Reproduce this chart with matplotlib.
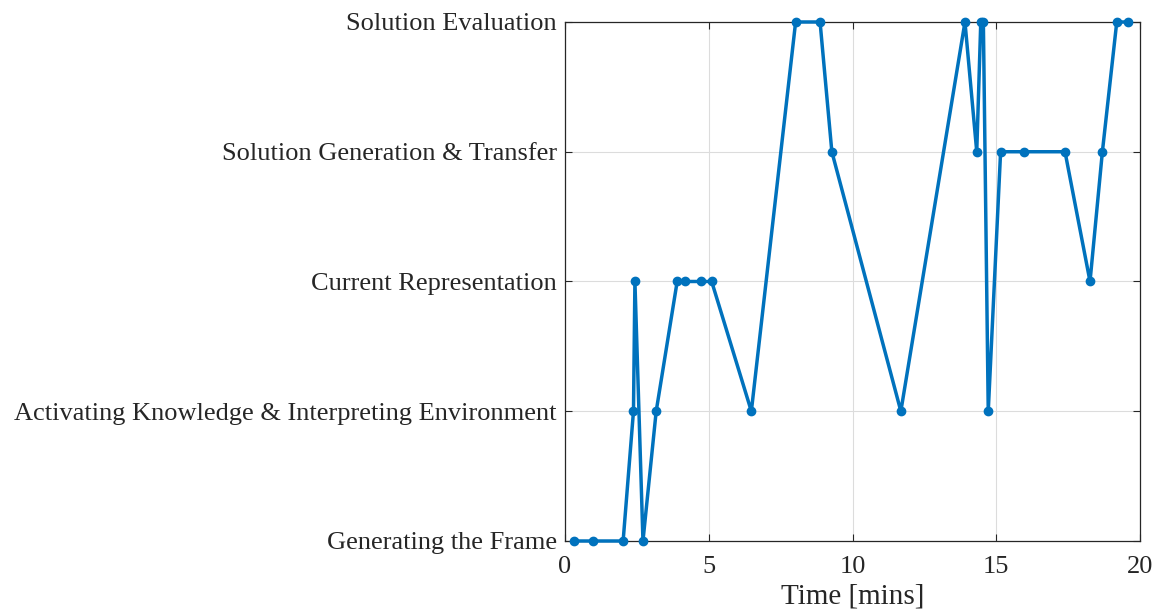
import matplotlib
matplotlib.use("Agg")
import matplotlib.pyplot as plt

# ── Data ──────────────────────────────────────────────────────────────────────
STAGES = [
    "Generating the Frame",
    "Activating Knowledge & Interpreting Environment",
    "Current Representation",
    "Solution Generation & Transfer",
    "Solution Evaluation",
]

time_mins = [0.31, 0.96, 2.02, 2.38, 2.43, 2.71, 3.17, 3.90, 4.17, 4.73, 5.10,
             6.48, 8.02, 8.87, 9.28, 11.68, 13.91, 14.32, 14.46, 14.55, 14.72,
             15.15, 15.97, 17.39, 18.26, 18.69, 19.19, 19.57]
stage_idx = [0, 0, 0, 1, 2, 0, 1, 2, 2, 2, 2,
             1, 4, 4, 3, 1, 4, 3, 4, 4, 1,
             3, 3, 3, 2, 3, 4, 4]

# ── Plot ──────────────────────────────────────────────────────────────────────
plt.rcParams["font.family"] = ["Liberation Serif", "DejaVu Serif"]

fig = plt.figure(figsize=(11.56, 6.14), dpi=100)
ax = fig.add_axes([0.4888, 0.1189, 0.9862 - 0.4888, 0.9642 - 0.1189])

ax.plot(time_mins, stage_idx, color="#0072BD", linewidth=2.5,
        marker="o", markersize=6, zorder=3, clip_on=False)

ax.set_xlim(0, 20)
ax.set_ylim(0, 4)
ax.set_xticks([0, 5, 10, 15, 20])
ax.set_yticks(range(len(STAGES)))
ax.set_yticklabels(STAGES)
ax.set_xlabel("Time [mins]", fontsize=21, color="#262626", labelpad=4)

ax.grid(True, color="#dcdcdc", linewidth=0.8)
ax.set_axisbelow(True)
ax.tick_params(direction="in", top=True, right=True, length=5, width=0.8,
               colors="#262626", labelsize=19)
ax.tick_params(axis="x", pad=11)
ax.tick_params(axis="y", pad=6)
for s in ax.spines.values():
    s.set_color("#262626")
    s.set_linewidth(0.9)

fig.savefig("out.png", dpi=100)
